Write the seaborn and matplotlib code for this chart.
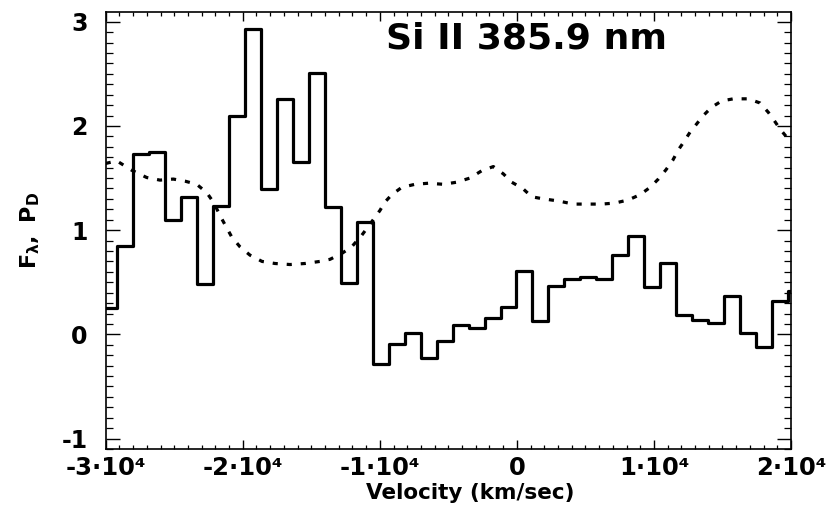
import numpy as np
import matplotlib
matplotlib.use("Agg")
import matplotlib.pyplot as plt
from matplotlib.ticker import MultipleLocator, FixedLocator, FuncFormatter
import seaborn as sns

# Binned flux F_lambda of the Si II 385.9 nm line, bin centres in km/s
bin_centers = [-29780, -28613, -27447, -26280, -25113, -23946, -22780, -21613,
               -20446, -19280, -18113, -16946, -15780, -14613, -13446, -12280,
               -11113, -9946, -8779, -7613, -6446, -5279, -4113, -2946,
               -1779, -613, 554, 1721, 2888, 4054, 5221, 6388,
               7554, 8721, 9888, 11055, 12221, 13388, 14555, 15721,
               16888, 18055, 19221, 20388]
flux = [0.25, 0.85, 1.73, 1.75, 1.10, 1.32, 0.48, 1.23,
        2.10, 2.93, 1.39, 2.26, 1.65, 2.51, 1.22, 0.49,
        1.08, -0.28, -0.09, 0.01, -0.23, -0.06, 0.09, 0.06,
        0.16, 0.26, 0.61, 0.13, 0.46, 0.53, 0.55, 0.53,
        0.76, 0.94, 0.45, 0.68, 0.19, 0.14, 0.11, 0.37,
        0.01, -0.12, 0.32, 0.42]
bin_width = 1166.7

# Smooth profile P_D
pd_velocity = [-30000, -29197, -28103, -27009, -26038, -25068, -24214, -23361,
               -22631, -22150, -21537, -20807, -20202, -19472, -18596, -17648,
               -16553, -15459, -14364, -13635, -12781, -12052, -11322, -10592,
               -9987, -9622, -9133, -8404, -7433, -6463, -5368, -4390,
               -3420, -2567, -1720, -990, -378, 425, 1082, 1928,
               3023, 4117, 5094, 6189, 7159, 8129, 8983, 9713,
               10318, 10880, 11369, 11778, 12194, 12632, 13121, 13602,
               14215, 14945, 15791, 16886, 17739, 18345, 18834, 19199,
               19636, 20000]
pd_profile = [1.64, 1.665, 1.575, 1.505, 1.48, 1.49, 1.47, 1.44,
              1.36, 1.27, 1.11, 0.935, 0.84, 0.76, 0.70, 0.68,
              0.67, 0.68, 0.70, 0.72, 0.776, 0.84, 0.95, 1.08,
              1.19, 1.27, 1.34, 1.41, 1.44, 1.45, 1.44, 1.46,
              1.50, 1.57, 1.61, 1.54, 1.46, 1.40, 1.32, 1.30,
              1.28, 1.25, 1.25, 1.25, 1.26, 1.29, 1.34, 1.41,
              1.49, 1.58, 1.67, 1.77, 1.85, 1.94, 2.02, 2.10,
              2.18, 2.24, 2.26, 2.26, 2.22, 2.13, 2.04, 1.97,
              1.90, 1.85]

title = "Si II 385.9 nm"
x_label = "Velocity (km/sec)"
y_label = r"$\mathbf{F_{\lambda},\ P_{D}}$"
x_ticks = [-30000, -20000, -10000, 0, 10000, 20000]
y_ticks = [-1, 0, 1, 2, 3]

sns.set_theme(style="white")
plt.rcParams["font.family"] = ["DejaVu Sans"]
plt.rcParams["font.weight"] = "bold"
plt.rcParams["mathtext.fontset"] = "dejavusans"
for key in ("text.color", "axes.labelcolor", "xtick.color", "ytick.color",
            "axes.edgecolor"):
    plt.rcParams[key] = "black"

fig = plt.figure(figsize=(8.3, 5.08), dpi=100)
ax = fig.add_axes([0.12735, 0.11614, 0.8257, 0.8596])

# histogram drawn as a step outline from the bin edges
centers = np.asarray(bin_centers, dtype=float)
edges = np.append(centers - bin_width / 2, centers[-1] + bin_width / 2)
step_y = np.append(flux, flux[-1])
sns.lineplot(x=edges, y=step_y, drawstyle="steps-post", color="black",
             linewidth=2.3, estimator=None, sort=False, ax=ax)

sns.lineplot(x=pd_velocity, y=pd_profile, color="black", linewidth=2.3,
             estimator=None, sort=False, ax=ax)
ax.lines[-1].set_linestyle((0, (1.6, 2.8)))
ax.lines[-1].set_dash_capstyle("butt")

ax.set_xlim(-30000, 20000)
ax.set_ylim(-1.1, 3.09)

ax.xaxis.set_major_locator(FixedLocator(x_ticks))
ax.xaxis.set_minor_locator(MultipleLocator(1000))
ax.yaxis.set_major_locator(FixedLocator(y_ticks))
ax.yaxis.set_minor_locator(MultipleLocator(0.1))


def fmt_velocity(v, pos):
    m = int(round(v / 1e4))
    return "0" if m == 0 else f"{m}\u00b710\u2074"


ax.xaxis.set_major_formatter(FuncFormatter(fmt_velocity))
ax.yaxis.set_major_formatter(FuncFormatter(lambda v, pos: f"{int(round(v))}"))

ax.tick_params(axis="x", which="major", direction="in", length=6.5, width=1.0,
               top=True, bottom=True, labelsize=17.5, pad=5)
ax.tick_params(axis="x", which="minor", direction="in", length=3.2, width=0.9,
               top=True, bottom=True)
ax.tick_params(axis="y", which="major", direction="in", length=10, width=1.0,
               left=True, right=True, labelsize=17, pad=13)
ax.tick_params(axis="y", which="minor", direction="in", length=5, width=0.9,
               left=True, right=True)
for lab in ax.get_xticklabels() + ax.get_yticklabels():
    lab.set_fontweight("bold")

for sp in ax.spines.values():
    sp.set_linewidth(1.2)

ax.set_xlabel(x_label, fontsize=15.5, fontweight="bold", labelpad=2, x=0.532)
ax.set_ylabel(y_label, fontsize=16, labelpad=14)
ax.text(0.614, 0.9176, title, transform=ax.transAxes, ha="center",
        va="baseline", fontsize=26, fontweight="bold")

fig.savefig("out.png", dpi=100, facecolor="white")
